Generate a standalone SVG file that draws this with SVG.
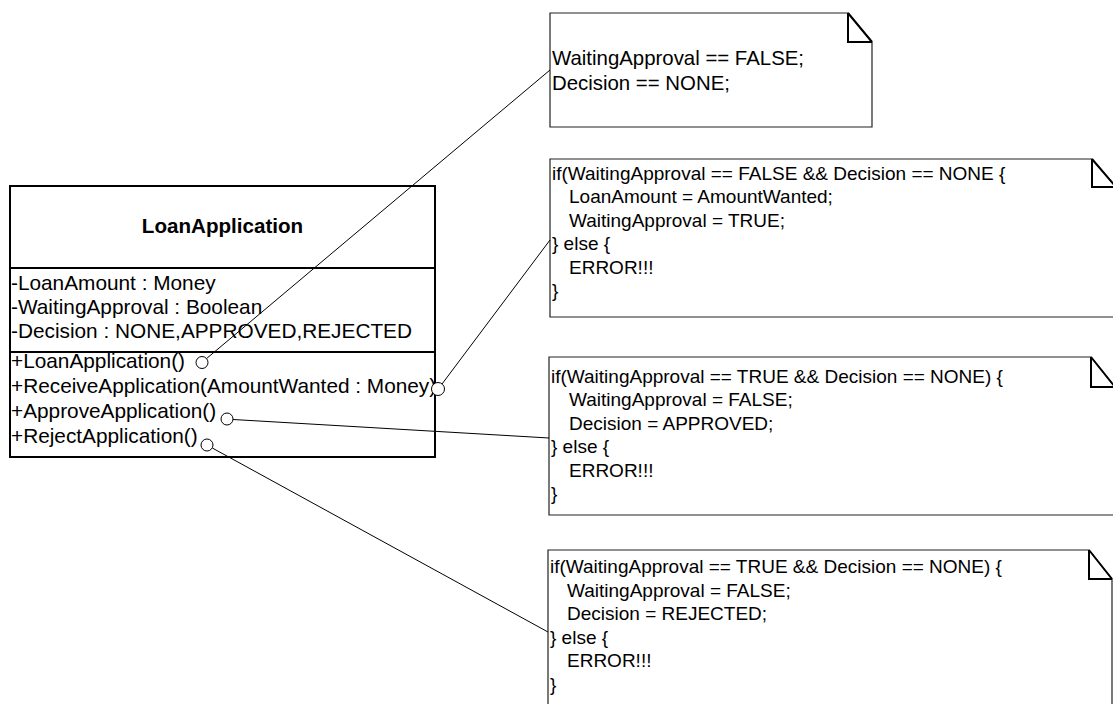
<svg xmlns="http://www.w3.org/2000/svg" width="1113" height="704" viewBox="0 0 1113 704">
<style>
  text { font-family: "Liberation Sans", Arial, sans-serif; font-size: 20.8px; fill: #000; }
  .title { font-weight: bold; font-size: 20.6px; }
  .box { fill: #fff; stroke: #000; stroke-width: 2; }
  .div { stroke: #000; stroke-width: 2; }
  .note { fill: #fff; stroke: #222; stroke-width: 1.2; }
  .fold { fill: none; stroke: #000; stroke-width: 2; }
  .conn { stroke: #000; stroke-width: 1; fill: none; }
  .end { fill: #fff; stroke: #000; stroke-width: 1; }
  .nt1 { font-size: 20.4px; }
  .nt { font-size: 19px; }
</style>
<rect width="1113" height="704" fill="#fff"/>

<g id="LoanApplication">
  <rect class="box" x="10" y="186" width="425" height="271"/>
  <line class="div" x1="10" y1="268" x2="435" y2="268"/>
  <line class="div" x1="10" y1="352" x2="435" y2="352"/>
  <text class="title" x="222.5" y="233" text-anchor="middle">LoanApplication</text>
  <text x="11" y="290">-LoanAmount : Money</text>
  <text x="11" y="314">-WaitingApproval : Boolean</text>
  <text x="11" y="338">-Decision : NONE,APPROVED,REJECTED</text>
  <text x="11" y="368">+LoanApplication()</text>
  <text x="11" y="393">+ReceiveApplication(AmountWanted : Money)</text>
  <text x="11" y="418">+ApproveApplication()</text>
  <text x="11" y="443">+RejectApplication()</text>
</g>

<g id="note1">
  <path class="note" d="M550,13 H848 L872,42 V127 H550 Z"/>
  <path class="fold" d="M848,13 V42 H872 M848,13 L872,42"/>
  <text class="nt1" x="552" y="65">WaitingApproval == FALSE;</text>
  <text class="nt1" x="552" y="90">Decision == NONE;</text>
</g>

<g id="note2">
  <path class="note" d="M550,159 H1092 L1116,187 V317 H550 Z"/>
  <path class="fold" d="M1092,159 V187 H1116 M1092,159 L1116,187"/>
  <text class="nt" x="552" y="180">if(WaitingApproval == FALSE &amp;&amp; Decision == NONE {</text>
  <text class="nt" x="569" y="203">LoanAmount = AmountWanted;</text>
  <text class="nt" x="569" y="227">WaitingApproval = TRUE;</text>
  <text class="nt" x="552" y="250">} else {</text>
  <text class="nt" x="569" y="274">ERROR!!!</text>
  <text class="nt" x="552" y="297">}</text>
</g>

<g id="note3">
  <path class="note" d="M549,357 H1091 L1115,387 V515 H549 Z"/>
  <path class="fold" d="M1091,357 V387 H1115 M1091,357 L1115,387"/>
  <text class="nt" x="551" y="383">if(WaitingApproval == TRUE &amp;&amp; Decision == NONE) {</text>
  <text class="nt" x="569" y="406">WaitingApproval = FALSE;</text>
  <text class="nt" x="569" y="430">Decision = APPROVED;</text>
  <text class="nt" x="551" y="453">} else {</text>
  <text class="nt" x="569" y="477">ERROR!!!</text>
  <text class="nt" x="551" y="500">}</text>
</g>

<g id="note4">
  <path class="note" d="M548,550 H1089 L1112,579 V720 H548 Z"/>
  <path class="fold" d="M1089,550 V579 H1112 M1089,550 L1112,579"/>
  <text class="nt" x="550" y="573">if(WaitingApproval == TRUE &amp;&amp; Decision == NONE) {</text>
  <text class="nt" x="567" y="597">WaitingApproval = FALSE;</text>
  <text class="nt" x="567" y="620">Decision = REJECTED;</text>
  <text class="nt" x="550" y="644">} else {</text>
  <text class="nt" x="567" y="667">ERROR!!!</text>
  <text class="nt" x="550" y="691">}</text>
</g>

<g id="connectors">
  <line class="conn" x1="206.6" y1="358.5" x2="550" y2="70"/>
  <line class="conn" x1="442" y1="384" x2="550" y2="240"/>
  <line class="conn" x1="233" y1="419.5" x2="549" y2="438"/>
  <line class="conn" x1="212.3" y1="448" x2="548" y2="632"/>
  <circle class="end" cx="202" cy="362.5" r="6"/>
  <circle class="end" cx="438" cy="389" r="6.5"/>
  <circle class="end" cx="227" cy="419" r="6"/>
  <circle class="end" cx="207" cy="445" r="6"/>
</g>
</svg>
